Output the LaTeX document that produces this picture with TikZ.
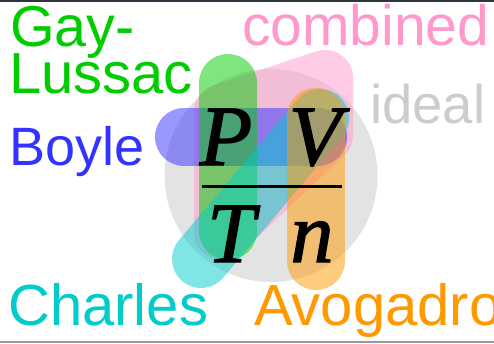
\documentclass[tikz,border=0pt]{standalone}
\usepackage{fontspec}
\setmainfont{Liberation Sans}
\newfontfamily\tms[FakeBold=1.5]{Liberation Serif}
\definecolor{glc}{HTML}{00CC00}
\definecolor{boc}{HTML}{3333FF}
\definecolor{chc}{HTML}{00CCCC}
\definecolor{avc}{HTML}{FF9900}
\definecolor{coc}{HTML}{FF99CC}
\definecolor{idc}{HTML}{CCCCCC}
\definecolor{circc}{HTML}{E3E3E3}
\definecolor{topc}{HTML}{2E3440}
\definecolor{botc}{HTML}{999999}
\begin{document}
\begin{tikzpicture}[x=1pt,y=-1pt,
  lbl/.style={anchor=base west,inner sep=0pt},
  bar/.style={line width=58pt,line cap=round,draw opacity=0.5},
  sym/.style={anchor=base,inner sep=0pt,font=\tms\itshape\fontsize{86}{86}\selectfont}]
\useasboundingbox (0,0) rectangle (494,343);
\fill[white] (0,0) rectangle (494,343);
\fill[topc] (0,0) rectangle (494,1.7);
\fill[botc] (0,340.7) rectangle (494,343);
% ideal circle
\fill[circc] (271,175.5) circle[radius=106.5pt];
% combined
\begin{scope}[transparency group,opacity=0.5]
\filldraw[coc,line width=56pt,line join=round] (222,112) -- (325,78) -- (325,135) -- (222,232) -- cycle;
\end{scope}
% Boyle
\draw[bar,boc] (184,137) -- (318,137);
% Gay-Lussac
\draw[bar,glc] (228,83) -- (228,231);
% Charles
\draw[bar,chc] (201,259) -- (320,118);
% Avogadro
\draw[bar,avc] (316,117) -- (316,261);
% formula
\node[sym] (P) at (226,165) {P};
\node[sym] (V) at (315,165) {V};
\node[sym] (T) at (231,262) {T};
\node[sym] (n) at (312,262) {n};
\coordinate (fl) at (202,186);
\coordinate (fr) at (342,186);
\draw[line width=3pt] (fl) -- (fr);
% labels
\node[lbl,glc,font=\fontsize{57.5}{57.5}\selectfont] (gay) at (10,46) {Gay-};
\node[lbl,glc,font=\fontsize{58}{58}\selectfont] (lus) at (9,93) {Lussac};
\node[lbl,boc,font=\fontsize{54}{54}\selectfont] (boy) at (9,165) {Boyle};
\node[lbl,chc,font=\fontsize{58}{58}\selectfont] (cha) at (8,325) {Charles};
\node[lbl,avc,font=\fontsize{58}{58}\selectfont] (avo) at (254,325) {Avogadro};
\node[lbl,coc,font=\fontsize{57}{57}\selectfont] (com) at (242,45) {combined};
\node[lbl,idc,font=\fontsize{54.5}{54.5}\selectfont] (ide) at (370,123) {ideal};
\end{tikzpicture}
\end{document}
